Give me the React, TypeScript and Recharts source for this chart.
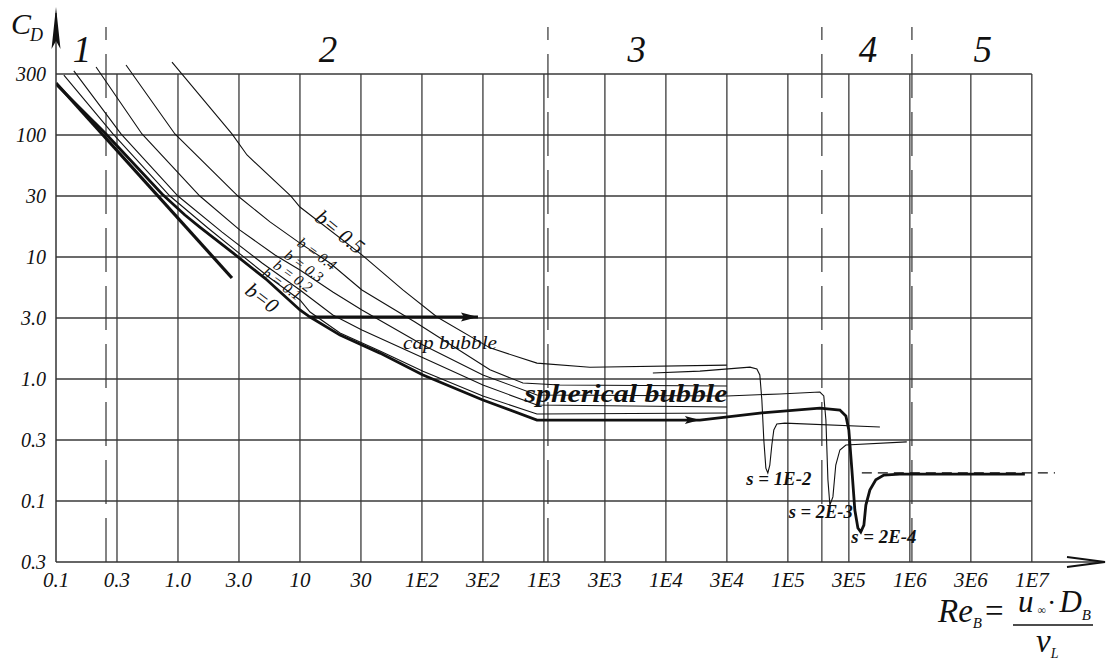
import React from 'react';
import { LineChart, Line, XAxis, YAxis, ReferenceLine, ReferenceDot } from 'recharts';

// ---------- axis ticks ----------
const xTicks = [0.1, 0.31623, 1, 3.1623, 10, 31.623, 100, 316.23, 1000, 3162.3, 10000, 31623, 100000, 316228, 1000000, 3162278, 10000000];
const xTickLabels = ['0.1', '0.3', '1.0', '3.0', '10', '30', '1E2', '3E2', '1E3', '3E3', '1E4', '3E4', '1E5', '3E5', '1E6', '3E6', '1E7'];
const yTicks = [0.031623, 0.1, 0.31623, 1, 3.1623, 10, 31.623, 100, 316.23];
const yTickLabels = ['0.3', '0.1', '0.3', '1.0', '3.0', '10', '30', '100', '300'];

// ---------- series (Re_B, C_D) ----------
const stokesRe = [0.1, 2.77];
const stokesCd = [267, 6.73];

const b0Re = [0.1, 0.257, 0.74, 1.14, 1.51, 2.82, 5.37, 10, 12.1, 21.3, 45.3, 102, 316, 877, 19000, 58900, 183000, 267000, 299000, 316000, 335000, 354000, 375000, 396000, 420000, 436000, 470000, 526000, 612000, 828000, 8770000];
const b0Cd = [262, 102, 32.8, 22.1, 17.6, 10.8, 6.48, 3.68, 3.22, 2.29, 1.63, 1.08, 0.673, 0.461, 0.461, 0.526, 0.578, 0.557, 0.498, 0.382, 0.179, 0.0843, 0.0601, 0.0557, 0.0635, 0.0927, 0.123, 0.149, 0.163, 0.166, 0.166];

const b1Re = [0.116, 0.293, 0.859, 1.76, 3.22, 5.68, 10, 12.1, 21.3, 45.3, 102, 316, 877, 31600];
const b1Cd = [310, 102, 31.6, 17.3, 10.6, 6.73, 4.44, 3.54, 2.38, 1.7, 1.16, 0.726, 0.516, 0.526];

const b2Re = [0.14, 0.341, 1.0, 2.3, 4.89, 10, 18.6, 32.2, 102, 316, 877, 31600];
const b2Cd = [335, 102, 31.6, 16.0, 8.93, 5.37, 3.35, 2.52, 1.49, 0.893, 0.612, 0.589];

const b3Re = [0.213, 0.507, 1.51, 3.22, 6.24, 10, 18.6, 32.2, 102, 316, 877, 31600, 85900, 183000, 197000, 205000, 213000, 221000, 234000, 247000, 267000, 299000, 944000];
const b3Cd = [361, 102, 31.6, 16.6, 10.4, 7.82, 5.17, 3.68, 1.9, 1.08, 0.74, 0.726, 0.754, 0.782, 0.726, 0.461, 0.149, 0.0927, 0.108, 0.197, 0.262, 0.288, 0.305];

const b4Re = [0.375, 0.944, 3.1, 5.68, 10, 17.6, 32.2, 87.7, 361, 673, 1352, 31600];
const b4Cd = [375, 102, 31.6, 19.4, 13.0, 8.93, 5.37, 2.93, 1.19, 0.927, 0.893, 0.877];

const b5Re = [0.893, 2.77, 3.68, 8.43, 10, 32.2, 69.8, 133, 361, 877, 2382, 31600];
const b5Cd = [396, 102, 68.6, 31.6, 25.7, 10.4, 5.37, 3.22, 1.8, 1.35, 1.25, 1.3];

const s1Re = [7820, 19000, 48900, 55700, 58900, 61200, 63500, 66000, 68500, 71100, 73900, 76700, 81200, 94400, 568000];
const s1Cd = [1.12, 1.16, 1.25, 1.21, 1.08, 0.673, 0.316, 0.186, 0.17, 0.197, 0.288, 0.382, 0.428, 0.435, 0.404];

const asymRe = [404000, 15500000];
const asymCd = [0.17, 0.17];

const capArrowRe = [12.1, 288];
const capArrowCd = [3.22, 3.22];

// arrow heads (tip positions)
const arrowTipRe = [288, 19000];
const arrowTipCd = [3.22, 0.461];

// regime dividers
const dividerRe = [0.257, 1079, 190000, 1040000];
const dividerTopCd = 767;

// regime numbers
const regionText = ['1', '2', '3', '4', '5'];
const regionRe = [0.163, 17.0, 5780, 453000, 3960000];
const regionCd = [396, 396, 396, 396, 396];

// annotations
const annText = ['b= 0.5', 'b = 0.4', 'b = 0.3', 'b = 0.2', 'b = 0.1', 'b=0', 'cap bubble', 'spherical bubble', 's = 1E-2', 's = 2E-3', 's = 2E-4'];
const annRe = [21.3, 13.8, 10.8, 8.77, 7.12, 4.89, 170, 4700, 84300, 186000, 612000];
const annCd = [16.0, 10.6, 8.43, 6.98, 6.01, 4.61, 2.01, 0.767, 0.151, 0.0813, 0.0507];

const annStyle = [
  { size: 21, rot: 39, bold: false },
  { size: 15, rot: 36, bold: false },
  { size: 15, rot: 36, bold: false },
  { size: 15, rot: 36, bold: false },
  { size: 15, rot: 36, bold: false },
  { size: 21, rot: 37, bold: false },
  { size: 19, rot: 0, bold: false, width: 94 },
  { size: 25, rot: 0, bold: true, width: 203 },
  { size: 18, rot: 0, bold: true, width: 65 },
  { size: 18, rot: 0, bold: true, width: 64 },
  { size: 18, rot: 0, bold: true, width: 65 },
];

const zip = (xs: number[], ys: number[]) => xs.map((x, i) => ({ x, y: ys[i] }));

const FONT = 'Liberation Serif, Times New Roman, serif';
const INK = '#111';
const GRID = '#3a3a3a';

const XTick = (props: any) => {
  const { x, y, payload } = props;
  const i = xTicks.indexOf(payload.value);
  return (
    <text x={x} y={y + 25} textAnchor="middle" fontFamily={FONT} fontStyle="italic" fontSize={21} fill={INK}>
      {xTickLabels[i]}
    </text>
  );
};

const YTick = (props: any) => {
  const { x, y, payload } = props;
  const i = yTicks.indexOf(payload.value);
  return (
    <text x={x - 10} y={y + 7} textAnchor="end" fontFamily={FONT} fontStyle="italic" fontSize={20} fill={INK}>
      {yTickLabels[i]}
    </text>
  );
};

const textShape = (txt: string, st: any) => (p: any) => (
  <text
    x={p.cx}
    y={p.cy}
    textAnchor="middle"
    dominantBaseline="central"
    fontFamily={FONT}
    fontStyle="italic"
    fontWeight={st.bold ? 'bold' : 'normal'}
    fontSize={st.size}
    fill={INK}
    transform={st.rot ? `rotate(${st.rot} ${p.cx} ${p.cy})` : undefined}
    {...(st.width ? { textLength: st.width, lengthAdjust: 'spacingAndGlyphs' } : {})}
  >
    {txt}
  </text>
);

const regionShape = (txt: string) => (p: any) => (
  <text x={p.cx} y={p.cy} textAnchor="middle" fontFamily={FONT} fontStyle="italic" fontSize={37} fill={INK}>
    {txt}
  </text>
);

const rightArrowHead = (len: number, hw: number) => (p: any) => (
  <polygon
    points={`${p.cx},${p.cy} ${p.cx - len},${p.cy - hw} ${p.cx - len + 3},${p.cy} ${p.cx - len},${p.cy + hw}`}
    fill={INK}
  />
);

const yAxisArrow = (p: any) => (
  <polygon points={`${p.cx},${p.cy - 6} ${p.cx - 4.5},${p.cy + 36} ${p.cx},${p.cy + 28} ${p.cx + 4.5},${p.cy + 36}`} fill={INK} />
);

const xAxisArrow = (p: any) => (
  <polyline
    points={`${p.cx - 38},${p.cy - 5} ${p.cx},${p.cy} ${p.cx - 38},${p.cy + 5}`}
    fill="none"
    stroke={INK}
    strokeWidth={2}
  />
);

const X_MAX = 39800000;
const Y_MIN = 0.031623;
const Y_MAX = 1000;

export default function App() {
  const thin = { stroke: INK, strokeWidth: 1.1, dot: false, activeDot: false, isAnimationActive: false, type: 'linear' as const };
  return (
    <div style={{ position: 'fixed', left: 0, top: 0, width: 1110, height: 662, background: '#fff' }}>
      <LineChart width={1110} height={662} margin={{ top: 13, right: 5, bottom: 70, left: 0 }}>
        <XAxis
          type="number"
          dataKey="x"
          scale="log"
          domain={[0.1, X_MAX]}
          allowDataOverflow
          ticks={xTicks}
          interval={0}
          tick={<XTick />}
          tickLine={false}
          tickSize={0}
          tickMargin={0}
          height={30}
          axisLine={{ stroke: '#333', strokeWidth: 1.5 }}
        />
        <YAxis
          type="number"
          dataKey="y"
          scale="log"
          domain={[Y_MIN, Y_MAX]}
          allowDataOverflow
          ticks={yTicks}
          interval={0}
          tick={<YTick />}
          tickLine={false}
          tickSize={0}
          tickMargin={0}
          width={56}
          axisLine={{ stroke: '#333', strokeWidth: 1.5 }}
        />

        {/* grid */}
        {xTicks.slice(1).map((t) => (
          <ReferenceLine key={'vx' + t} segment={[{ x: t, y: Y_MIN }, { x: t, y: yTicks[yTicks.length - 1] }]} stroke={GRID} strokeWidth={1.3} ifOverflow="visible" />
        ))}
        {yTicks.slice(1).map((t) => (
          <ReferenceLine key={'hy' + t} segment={[{ x: 0.1, y: t }, { x: xTicks[xTicks.length - 1], y: t }]} stroke={GRID} strokeWidth={1.3} ifOverflow="visible" />
        ))}
        {dividerRe.map((d) => (
          <ReferenceLine key={'dv' + d} segment={[{ x: d, y: Y_MIN }, { x: d, y: dividerTopCd }]} stroke="#333" strokeWidth={1.2} strokeDasharray="44 14" ifOverflow="visible" />
        ))}

        {/* curves */}
        <Line data={zip(b5Re, b5Cd)} dataKey="y" {...thin} />
        <Line data={zip(b4Re, b4Cd)} dataKey="y" {...thin} />
        <Line data={zip(b3Re, b3Cd)} dataKey="y" {...thin} />
        <Line data={zip(b2Re, b2Cd)} dataKey="y" {...thin} />
        <Line data={zip(b1Re, b1Cd)} dataKey="y" {...thin} />
        <Line data={zip(s1Re, s1Cd)} dataKey="y" {...thin} />
        <Line data={zip(asymRe, asymCd)} dataKey="y" {...thin} strokeDasharray="10 6" />
        <Line data={zip(stokesRe, stokesCd)} dataKey="y" {...thin} strokeWidth={3.2} />
        <Line data={zip(b0Re, b0Cd)} dataKey="y" {...thin} strokeWidth={2.8} />
        <Line data={zip(capArrowRe, capArrowCd)} dataKey="y" {...thin} strokeWidth={3} />

        {/* arrow heads */}
        <ReferenceDot x={arrowTipRe[0]} y={arrowTipCd[0]} r={1} shape={rightArrowHead(17, 4.5)} ifOverflow="visible" />
        <ReferenceDot x={arrowTipRe[1]} y={arrowTipCd[1]} r={1} shape={rightArrowHead(15, 4)} ifOverflow="visible" />
        <ReferenceDot x={0.1} y={Y_MAX} r={1} shape={yAxisArrow} ifOverflow="visible" />
        <ReferenceDot x={X_MAX} y={Y_MIN} r={1} shape={xAxisArrow} ifOverflow="visible" />

        {/* regime numbers */}
        {regionText.map((t, i) => (
          <ReferenceDot key={'rg' + i} x={regionRe[i]} y={regionCd[i]} r={1} shape={regionShape(t)} ifOverflow="visible" />
        ))}

        {/* annotations */}
        {annText.map((t, i) => (
          <ReferenceDot key={'an' + i} x={annRe[i]} y={annCd[i]} r={1} shape={textShape(t, annStyle[i])} ifOverflow="visible" />
        ))}
      </LineChart>

      <svg width={1110} height={662} style={{ position: 'absolute', left: 0, top: 0, pointerEvents: 'none' }}>
        <g fontFamily={FONT} fill={INK}>
          <text x={11} y={34} fontSize={30} fontStyle="italic">
            C<tspan fontSize={18} dy={7} dx={-1}>D</tspan>
          </text>
          <text x={938} y={622} fontSize={33}>
            <tspan fontStyle="italic">Re</tspan>
            <tspan fontSize={15} fontStyle="italic" dy={6}>B</tspan>
            <tspan dy={-6} dx={3}>=</tspan>
          </text>
          <line x1={1013} y1={625} x2={1093} y2={625} stroke={INK} strokeWidth={1.5} />
          <text x={1018} y={612} fontSize={31}>
            <tspan fontStyle="italic">u</tspan>
            <tspan fontSize={12} dy={2} dx={4}>∞</tspan>
            <tspan fontSize={28} dy={-2} dx={1}>·</tspan>
            <tspan fontStyle="italic" dx={3}>D</tspan>
            <tspan fontSize={15} fontStyle="italic" dy={8}>B</tspan>
          </text>
          <text x={1036} y={652} fontSize={33}>
            <tspan fontStyle="italic">ν</tspan>
            <tspan fontSize={14} fontStyle="italic" dy={6}>L</tspan>
          </text>
        </g>
      </svg>
    </div>
  );
}
